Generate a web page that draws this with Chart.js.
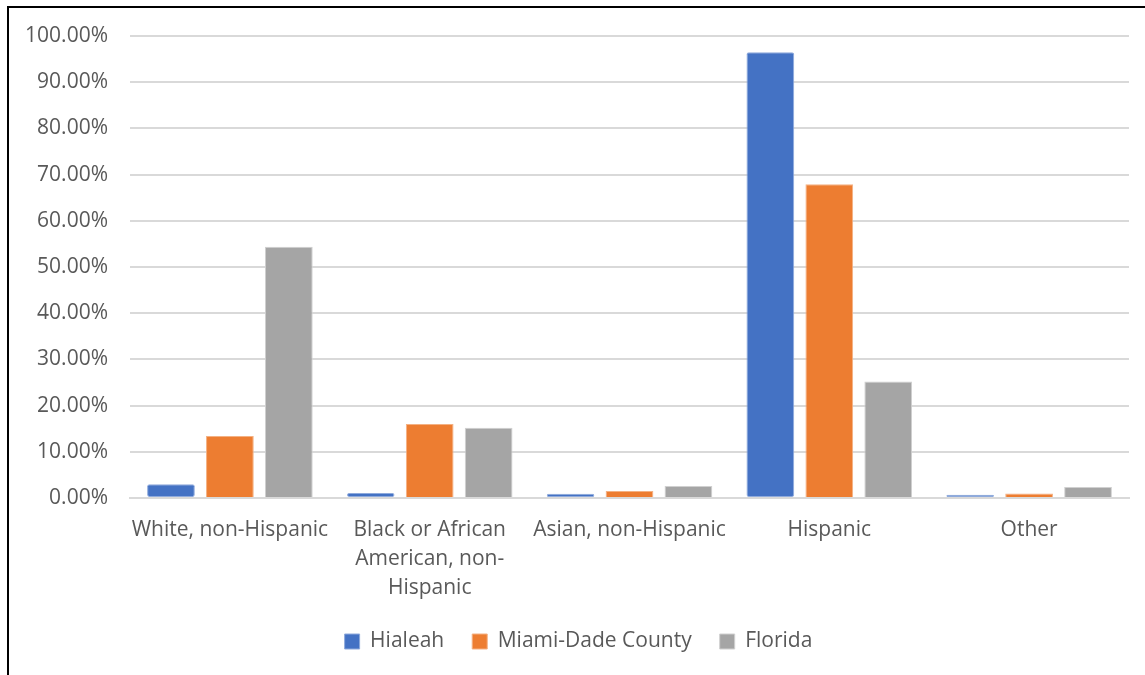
<!DOCTYPE html>
<html lang="en">
<head>
    <meta charset="UTF-8">
    <title>Race and Ethnicity</title>
    <script src="https://cdn.jsdelivr.net/npm/chart.js"></script>
    <style>
        body { margin: 0; background: #fff; font-family: "Open Sans", sans-serif; }
        .wrap { position: relative; width: 1145px; height: 675px; }
        .frame { position: absolute; left: 7px; top: 6px; right: 0; bottom: 0; border-top: 2px solid #000; border-left: 2px solid #000; pointer-events: none; }
    </style>
</head>
<body>
    <div class="wrap">
        <canvas id="raceChart" width="1145" height="675"></canvas>
        <div class="frame"></div>
    </div>
    <script>
        const categories = [
            'White, non-Hispanic',
            ['Black or African', 'American, non-', 'Hispanic'],
            'Asian, non-Hispanic',
            'Hispanic',
            'Other'
        ];
        const hialeah = [3.0, 1.1, 0.9, 96.5, 0.7];
        const miamiDade = [13.4, 16.0, 1.5, 67.9, 1.0];
        const florida = [54.4, 15.2, 2.6, 25.2, 2.4];

        const textColor = '#595959';
        const gridColor = '#d9d9d9';
        const fontSize = 21;

        // nudge the legend so it sits a little right of the canvas centre
        const legendShift = {
            id: 'legendShift',
            afterLayout(chart) {
                chart.legend.left += 14;
                chart.legend.right += 14;
            }
        };

        const ctx = document.getElementById('raceChart').getContext('2d');
        new Chart(ctx, {
            type: 'bar',
            data: {
                labels: categories,
                datasets: [
                    { label: 'Hialeah', data: hialeah, backgroundColor: '#4472C4', borderColor: '#8faadc', borderWidth: 1, borderRadius: 2, borderSkipped: false },
                    { label: 'Miami-Dade County', data: miamiDade, backgroundColor: '#ED7D31', borderColor: '#f4b183', borderWidth: 1 },
                    { label: 'Florida', data: florida, backgroundColor: '#A5A5A5', borderColor: '#d0d0d0', borderWidth: 1 }
                ]
            },
            options: {
                responsive: false,
                animation: false,
                layout: { padding: { top: 36, right: 16, bottom: 13, left: 0 } },
                datasets: { bar: { categoryPercentage: 0.885, barPercentage: 0.81 } },
                plugins: {
                    legend: {
                        position: 'bottom',
                        labels: { color: textColor, font: { family: 'Open Sans', size: fontSize }, boxWidth: 15, boxHeight: 15, padding: 28 }
                    },
                    tooltip: { enabled: false }
                },
                scales: {
                    x: {
                        grid: { display: false, drawTicks: false },
                        border: { display: true, color: gridColor, width: 2 },
                        ticks: { color: textColor, font: { family: 'Open Sans', size: fontSize, lineHeight: 1.38 }, padding: 18, maxRotation: 0, autoSkip: false },
                        afterFit: s => { s.height = 105; }
                    },
                    y: {
                        min: 0, max: 100,
                        grid: { color: gridColor, lineWidth: 2, drawTicks: false },
                        border: { display: false },
                        ticks: { stepSize: 10, color: textColor, font: { family: 'Open Sans', size: fontSize }, padding: 22,
                                 callback: v => v.toFixed(2) + '%' },
                        afterFit: s => { s.width = 130; }
                    }
                }
            },
            plugins: [legendShift]
        });
    </script>
</body>
</html>
